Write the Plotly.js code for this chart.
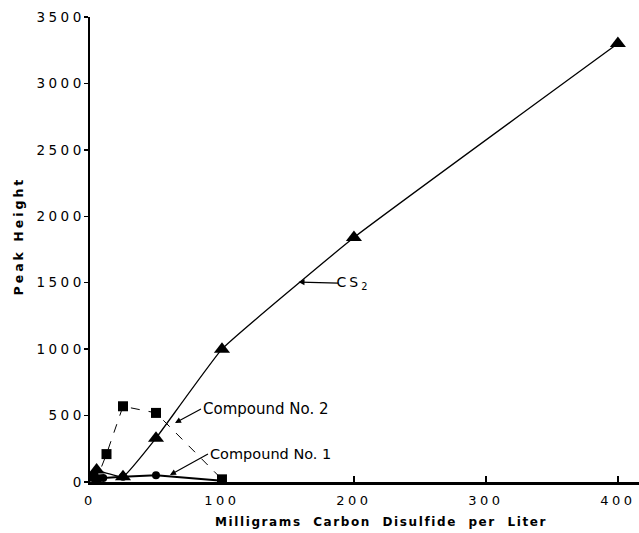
<!DOCTYPE html>
<html>
<head>
<meta charset="utf-8">
<script src="https://cdn.plot.ly/plotly-3.0.1.min.js"></script>
<style>
  html, body { margin: 0; padding: 0; background: #fff; }
  #chart { width: 639px; height: 533px; }
  .xtick text, .ytick text { letter-spacing: 3.5px; }
  g.annotation[data-index="0"] text { letter-spacing: 3px; }
  g.annotation[data-index="3"] text { letter-spacing: 1.6px; }
  g.annotation[data-index="4"] text { letter-spacing: 3px; }
</style>
</head>
<body>
<div id="chart"></div>
<script>
// Data
const cs2X = [5, 25, 50, 100, 200, 400];
const cs2Y = [90, 40, 330, 1000, 1840, 3300];

const comp1X = [2.5, 10, 25, 50, 100];
const comp1Y = [50, 30, 40, 50, 10];

const comp2X = [2.5, 5, 12.5, 25, 50, 100];
const comp2Y = [40, 20, 210, 570, 520, 20];

const xTickVals = [0, 100, 200, 300, 400];
const yTickVals = [0, 500, 1000, 1500, 2000, 2500, 3000, 3500];

const fontFam = '"DejaVu Sans", Arial, sans-serif';

const traces = [
  {
    x: comp2X, y: comp2Y, type: 'scatter', mode: 'lines+markers',
    name: 'Compound No. 2',
    line: { color: '#000', width: 1, dash: 'dash' },
    marker: { symbol: 'square', size: 10, color: '#000' },
    cliponaxis: false
  },
  {
    x: comp1X, y: comp1Y, type: 'scatter', mode: 'lines+markers',
    name: 'Compound No. 1',
    line: { color: '#000', width: 2 },
    marker: { symbol: 'circle', size: 8, color: '#000' },
    cliponaxis: false
  },
  {
    x: cs2X, y: cs2Y, type: 'scatter', mode: 'lines+markers',
    name: 'CS2',
    line: { color: '#000', width: 1.3, shape: 'spline', smoothing: 0.3 },
    marker: { symbol: 'triangle-up', size: 14, color: '#000' },
    cliponaxis: false
  }
];

const layout = {
  width: 639, height: 533,
  margin: { l: 90, r: 0, t: 17, b: 51 },
  paper_bgcolor: '#fff', plot_bgcolor: '#fff',
  showlegend: false,
  font: { family: fontFam, color: '#000', size: 13 },
  xaxis: {
    range: [0, 416],
    tickvals: xTickVals,
    ticks: 'inside', ticklen: 6, tickwidth: 1.5, tickcolor: '#000',
    showgrid: false, zeroline: false,
    showline: true, linecolor: '#000', linewidth: 3,
    tickfont: { family: fontFam, size: 13, color: '#000' },
    ticklabelstandoff: 4
  },
  yaxis: {
    range: [0, 3500],
    tickvals: yTickVals,
    ticks: 'outside', ticklen: 4, tickwidth: 1.5, tickcolor: '#000',
    showgrid: false, zeroline: false,
    showline: true, linecolor: '#000', linewidth: 2.5,
    tickfont: { family: fontFam, size: 13.5, color: '#000' },
    ticklabelstandoff: -4
  },
  annotations: [
    {
      x: 158, y: 1505, xref: 'x', yref: 'y',
      text: 'CS<sub>2</sub>', showarrow: true, arrowhead: 2, arrowsize: 1, arrowwidth: 1.2, arrowcolor: '#000',
      ax: 40, ay: 1, xanchor: 'left', yanchor: 'middle',
      font: { family: fontFam, size: 14, color: '#000' }
    },
    {
      x: 64.4, y: 444, xref: 'x', yref: 'y',
      text: 'Compound No. 2', showarrow: true, arrowhead: 2, arrowsize: 1, arrowwidth: 1.2, arrowcolor: '#000',
      ax: 26, ay: -14, xanchor: 'left', yanchor: 'middle',
      font: { family: fontFam, size: 15, color: '#000' }
    },
    {
      x: 60.6, y: 53, xref: 'x', yref: 'y',
      text: 'Compound No. 1', showarrow: true, arrowhead: 2, arrowsize: 1, arrowwidth: 1.2, arrowcolor: '#000',
      ax: 38, ay: -21, xanchor: 'left', yanchor: 'middle',
      font: { family: fontFam, size: 14.5, color: '#000' }
    },
    {
      x: 381, y: 522, xref: 'paper', yref: 'paper',
      text: '<b>Milligrams  Carbon  Disulfide  per  Liter</b>', showarrow: false,
      xanchor: 'center', yanchor: 'middle',
      font: { family: fontFam, size: 12, color: '#000' }
    },
    {
      x: 18, y: 236, xref: 'paper', yref: 'paper',
      text: '<b>Peak Height</b>', showarrow: false, textangle: -90,
      xanchor: 'center', yanchor: 'middle',
      font: { family: fontFam, size: 12.5, color: '#000' }
    }
  ]
};
// convert the title pixel placements into paper fractions
layout.annotations[3].x = (381 - 90) / 549;
layout.annotations[3].y = -(522 - 482) / 465;
layout.annotations[4].x = (18 - 90) / 549;
layout.annotations[4].y = (482 - 236) / 465;

Plotly.newPlot('chart', traces, layout, { staticPlot: true, displayModeBar: false });
</script>
</body>
</html>
